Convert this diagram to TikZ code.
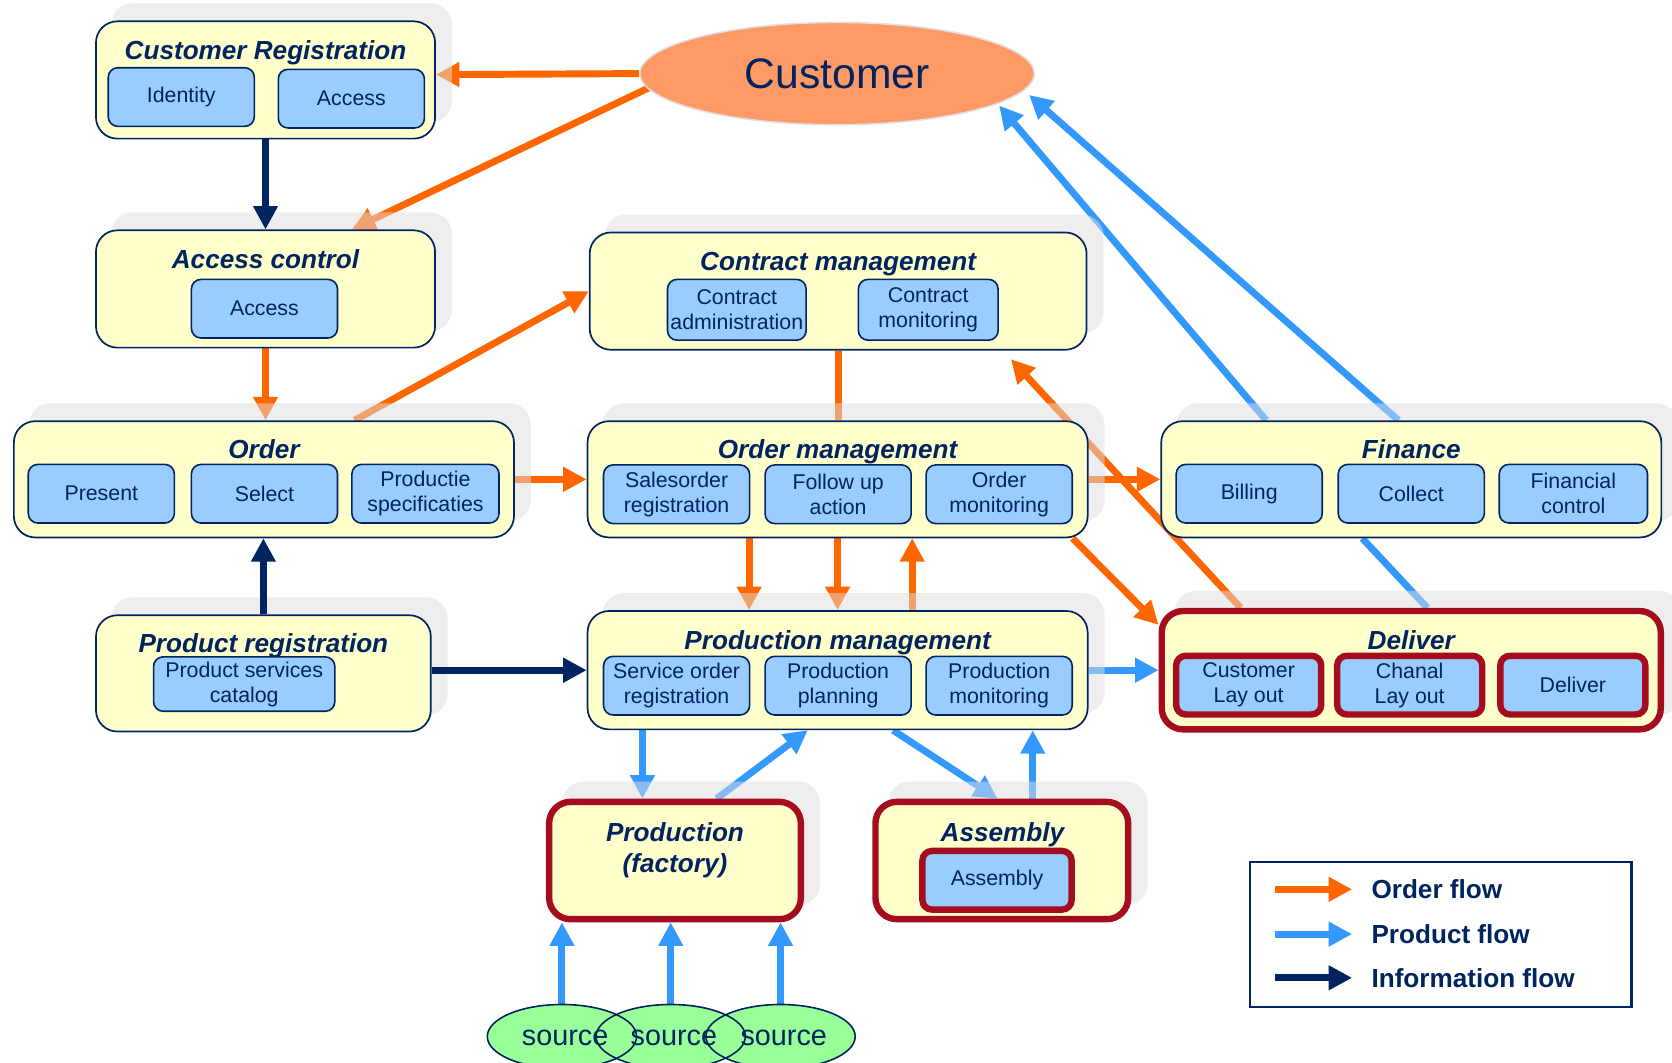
\documentclass[tikz,border=0pt]{standalone}
\usepackage{fontspec}
\setmainfont{Liberation Sans}
\usetikzlibrary{arrows.meta,shapes.geometric}
\pgfdeclarelayer{back}
\pgfdeclarelayer{shadowlayer}
\pgfsetlayers{back,shadowlayer,main}
\definecolor{infonavy}{RGB}{0,36,96}
\definecolor{boxyellow}{RGB}{255,255,204}
\definecolor{subblue}{RGB}{153,204,255}
\definecolor{ordcol}{RGB}{255,102,0}
\definecolor{prodcol}{RGB}{51,153,255}
\definecolor{darkred}{RGB}{165,13,30}
\definecolor{custfill}{RGB}{255,153,102}
\definecolor{srcfill}{RGB}{153,255,153}
\tikzset{%
  grp/.style={draw=infonavy, line width=1.6pt, fill=boxyellow, rounded corners=20pt, inner sep=0pt},
  redgrp/.style={grp, draw=darkred, line width=6pt},
  ttlbase/.style={text=infonavy, font=\fontsize{24.5}{29}\selectfont\bfseries\itshape, inner sep=0pt},
  ttl/.style={ttlbase, text height=17.6pt, text depth=0pt},
  subbox/.style={draw=infonavy, line width=1.5pt, fill=subblue, rounded corners=9pt, minimum width=137, minimum height=55, inner sep=0pt, align=center, text=infonavy, font=\fontsize{20}{23.5}\selectfont},
  redsub/.style={subbox, draw=darkred, line width=6pt, minimum width=136},
  boxshadow/.style={fill=black!13, opacity=0.5, rounded corners=20pt},
  flow/.style={line width=6.5pt, -{Triangle[length=22pt,width=22pt]}},
  oflow/.style={flow, draw=ordcol},
  pflow/.style={flow, draw=prodcol},
  iflow/.style={flow, draw=infonavy},
  oline/.style={line width=6.5pt, draw=ordcol},
  pline/.style={line width=6.5pt, draw=prodcol},
  srcnode/.style={ellipse, fill=srcfill, minimum width=140, minimum height=60, inner sep=0pt},
  srcline/.style={draw=infonavy, line width=1.5pt},
  srctxt/.style={inner sep=0pt, text=infonavy, font=\fontsize{27}{32}\selectfont},
  legtxt/.style={anchor=west, inner sep=0pt, text height=17.6pt, text depth=0pt, text=infonavy, font=\fontsize{24.5}{29}\selectfont\bfseries}
}
\begin{document}
\begin{tikzpicture}[x=1pt, y=-1pt]%
  \useasboundingbox (0,0) rectangle (1568,996);%
  % customer
  \node[ellipse, draw=black!12, line width=1.5pt, fill=custfill, minimum width=370, minimum height=96, inner sep=0pt, text=infonavy, font=\fontsize{40}{48}\selectfont] (cust) at (785,69) {Customer};
  % left column
  \node[grp, minimum width=318, minimum height=110] (custreg) at (249,75) {};
  \node[ttl] (custreg-t) at (249,47) {Customer Registration};
  \node[subbox] (identity) at (170,91) {Identity};
  \node[subbox] (cr-access) at (329.5,92.5) {Access};
  \node[grp, minimum width=318, minimum height=110] (accctl) at (249,271) {};
  \node[ttl] (accctl-t) at (249,243) {Access control};
  \node[subbox] (ac-access) at (248,289.5) {Access};
  \node[grp, minimum width=469, minimum height=109] (order) at (247.5,449.5) {};
  \node[ttl] (order-t) at (247.5,421) {Order};
  \node[subbox] (present) at (95,463) {Present};
  \node[subbox] (select) at (248,463) {Select};
  \node[subbox, minimum width=138] (prodspec) at (399,463) {Productie\\specificaties};
  \node[grp, minimum width=314, minimum height=109] (prodreg) at (247,631.5) {};
  \node[ttl] (prodreg-t) at (247,603) {Product registration};
  \node[subbox, minimum width=170, minimum height=51] (catalog) at (229,641.5) {Product services\\catalog};
  % middle column
  \node[grp, minimum width=466, minimum height=110] (contract) at (786,273) {};
  \node[ttl] (contract-t) at (786,245) {Contract management};
  \node[subbox, minimum width=130, minimum height=57] (cadmin) at (691,290.5) {Contract\\administration};
  \node[subbox, minimum width=131, minimum height=57] (cmon) at (870.5,290.5) {Contract\\monitoring};
  \node[grp, minimum width=469, minimum height=109] (om) at (785.5,449.5) {};
  \node[ttl] (om-t) at (785.5,421) {Order management};
  \node[subbox] (salesreg) at (634.5,463.5) {Salesorder\\registration};
  \node[subbox] (followup) at (786,463.5) {Follow up\\action};
  \node[subbox] (ordmon) at (937,463.5) {Order\\monitoring};
  \node[grp, minimum width=469, minimum height=111] (pm) at (785.5,628.5) {};
  \node[ttl] (pm-t) at (785.5,600) {Production management};
  \node[subbox] (soreg) at (634.5,643) {Service order\\registration};
  \node[subbox] (planning) at (786,643) {Production\\planning};
  \node[subbox] (pmon) at (937,643) {Production\\monitoring};
  \node[redgrp, minimum width=236, minimum height=110] (prod) at (633,807) {};
  \node[ttlbase, align=center] (prod-t) at (633,797) {Production\\(factory)};
  \node[redgrp, minimum width=237, minimum height=110] (asm) at (939.5,807) {};
  \node[ttl] (asm-t) at (940,780) {Assembly};
  \node[redsub, minimum width=140] (asmsub) at (935,825.5) {Assembly};
  % right column
  \node[grp, minimum width=469, minimum height=109] (fin) at (1323.5,449.5) {};
  \node[ttl] (fin-t) at (1323.5,421) {Finance};
  \node[subbox] (billing) at (1171.5,463) {Billing};
  \node[subbox] (collect) at (1323.5,463) {Collect};
  \node[subbox, minimum width=139] (finctl) at (1475.5,463) {Financial\\control};
  \node[redgrp, minimum width=468, minimum height=111] (deliver) at (1323.5,628.5) {};
  \node[ttl] (deliver-t) at (1323.5,600) {Deliver};
  \node[redsub] (custlay) at (1171,642.5) {Customer\\Lay out};
  \node[redsub] (chanlay) at (1322,642.5) {Chanal\\Lay out};
  \node[redsub] (dlv) at (1475,642.5) {Deliver};
  % sources
  \foreach \x [count=\i] in {527,629,732}{%
    \node[srcnode] (src-\i) at (\x,972) {};
  }
  \foreach \i in {1,2,3}{%
    \draw[srcline] (src-\i.center) ellipse [x radius=70, y radius=30];
    \node[srctxt] (src-t-\i) at ([xshift=3,yshift=-1]src-\i.center) {source};
  }
  % shadows
  \begin{pgfonlayer}{shadowlayer}
  \foreach \b in {custreg,accctl,order,prodreg,contract,om,pm,prod,asm,fin,deliver}{%
    \fill[boxshadow] ([xshift=15,yshift=16]\b.south west) rectangle ([xshift=15,yshift=16]\b.north east);
  }
  \end{pgfonlayer}
  % order and product flows
  \begin{pgfonlayer}{back}
  \draw[oflow] (cust.west) -- ([yshift=5]custreg.east);
  \draw[oflow] ([xshift=12,yshift=-12]cust.west) -- ([xshift=81]accctl.north);
  \draw[oflow] (accctl.south) -- (accctl.south |- order.north);
  \draw[oflow] ([xshift=85]order.north) -- (contract.west);
  \draw[oflow] (order.east) -- (om.west);
  \draw[oline] (contract.south) -- (contract.south |- om.north);
  \draw[oflow] (om.east) -- (fin.west);
  \draw[oflow] ([xshift=-83]om.south) -- ([xshift=-83]pm.north);
  \draw[oflow] (om.south) -- (pm.north);
  \draw[oflow] ([xshift=70]pm.north) -- ([xshift=70]om.south);
  \draw[oflow] ([xshift=-15]om.south east) -- ([yshift=-16]deliver.north west);
  \draw[oflow] ([xshift=-160]deliver.north) -- ([xshift=162,yshift=-8]contract.south);
  \draw[pflow] ([xshift=-136]fin.north) -- ([xshift=152,yshift=-30]cust.center);
  \draw[pflow] ([xshift=-12]fin.north) -- ([xshift=180,yshift=-20]cust.center);
  \draw[pline] ([xshift=-46]fin.south) -- ([xshift=15]deliver.north);
  \draw[pflow] (pm.east) -- (deliver.west);
  \draw[pflow] ([xshift=-183]pm.south) -- ([xshift=-183]pm.south |- prod.north);
  \draw[pflow] ([xshift=39]prod.north) -- ([xshift=-28]pm.south);
  \draw[pflow] ([xshift=52]pm.south) -- ([xshift=-4]asm.north);
  \draw[pflow] ([xshift=29]asm.north) -- ([xshift=29]asm.north |- pm.south);
  \foreach \i in {1,2,3}{%
    \draw[pflow] (src-\i.north) -- (src-\i.north |- prod.south);
  }
  \end{pgfonlayer}
  % information flows
  \draw[iflow] (custreg.south) -- (custreg.south |- accctl.north);
  \draw[iflow] (prodreg.north) -- (prodreg.north |- order.south);
  \draw[iflow] (prodreg.east |- pm.west) -- (pm.west);
  % legend
  \node[draw=infonavy, line width=2pt, fill=white, minimum width=358, minimum height=136] (legend) at (1351,876) {};
  \foreach \y/\st/\txt [count=\i] in {834/oflow/Order flow, 876/pflow/Product flow, 917/iflow/Information flow}{%
    \coordinate (lg-s-\i) at (1196,\y);
    \coordinate (lg-e-\i) at (1268,\y);
    \node[legtxt] (lg-\i) at (1286,\y) {\txt};
    \draw[\st] (lg-s-\i) -- (lg-e-\i);
  }
\end{tikzpicture}
\end{document}
